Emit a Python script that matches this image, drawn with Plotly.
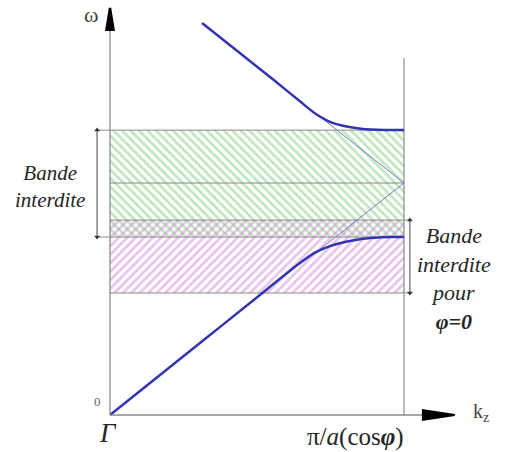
import plotly.graph_objects as go

# ---- data (normalised: k in units of pi/(a cos phi), omega in units of light-line value at zone edge)
k_lower = [0.0, 0.306, 0.476, 0.646, 0.697, 0.748, 0.799, 0.850, 0.901, 0.952, 1.0]
w_lower = [0.0, 0.310, 0.483, 0.655, 0.700, 0.728, 0.746, 0.758, 0.764, 0.767, 0.767]

k_upper = [0.313, 0.418, 0.554, 0.646, 0.704, 0.759, 0.840, 0.908, 1.0]
w_upper = [1.690, 1.584, 1.447, 1.352, 1.294, 1.258, 1.236, 1.229, 1.228]

k_light_lo = [0.71, 1.0]
w_light_lo = [0.71, 1.0]
k_light_hi = [0.70, 1.0]
w_light_hi = [1.30, 1.0]

gap_general = [0.767, 1.228]   # Bande interdite (any phi)
gap_phi0 = [0.526, 0.840]      # Bande interdite pour phi = 0
mid_level = 1.0
k_edge = 1.0

GREEN = "#7fcf7f"
PINK = "#cf8ad4"
GRAY = "#8a8a8a"
BLUE = "#3333b5"
TXT = "#262626"
SERIF = "Liberation Serif"

fig = go.Figure()

def line(x, y, color=GRAY, width=1):
    fig.add_trace(go.Scatter(x=x, y=y, mode="lines", line=dict(color=color, width=width),
                             showlegend=False, hoverinfo="skip"))

# hatched bands
fig.add_trace(go.Scatter(
    x=[0, k_edge, k_edge, 0, 0],
    y=[gap_general[0], gap_general[0], gap_general[1], gap_general[1], gap_general[0]],
    fill="toself", mode="none", hoverinfo="skip",
    fillpattern=dict(shape="\\", fgcolor=GREEN, bgcolor="rgba(0,0,0,0)", size=6, solidity=0.45),
    fillcolor="rgba(0,0,0,0)", showlegend=False))
fig.add_trace(go.Scatter(
    x=[0, k_edge, k_edge, 0, 0],
    y=[gap_phi0[0], gap_phi0[0], gap_phi0[1], gap_phi0[1], gap_phi0[0]],
    fill="toself", mode="none", hoverinfo="skip",
    fillpattern=dict(shape="/", fgcolor=PINK, bgcolor="rgba(0,0,0,0)", size=6, solidity=0.45),
    fillcolor="rgba(0,0,0,0)", showlegend=False))

# box outlines
xl = -0.044
xr = 1.02
line([xl, k_edge], [gap_general[1]] * 2)
line([xl, k_edge], [gap_general[0]] * 2)
line([0, k_edge], [mid_level] * 2)
line([0, xr], [gap_phi0[1]] * 2)
line([0, xr], [gap_phi0[0]] * 2)

# brackets with arrowheads
for xb, g in ((xl, gap_general), (xr, gap_phi0)):
    fig.add_trace(go.Scatter(x=[xb, xb], y=[g[0], g[1]], mode="lines+markers",
                             line=dict(color="#444", width=1),
                             marker=dict(symbol=["triangle-down", "triangle-up"], size=5, color="#333"),
                             showlegend=False, hoverinfo="skip"))

# zone-edge vertical line
line([k_edge, k_edge], [0, 1.539], width=1.2)

# folded light lines (thin)
line(k_light_lo, w_light_lo, color="#7a7ac4")
line(k_light_hi, w_light_hi, color="#7a7ac4")

# dispersion branches
for kk, ww in ((k_lower, w_lower), (k_upper, w_upper)):
    fig.add_trace(go.Scatter(x=kk, y=ww, mode="lines",
                             line=dict(color=BLUE, width=2.5, shape="spline", smoothing=0.8),
                             showlegend=False, hoverinfo="skip"))

# axes
line([0, 0], [0, 1.67], width=1.3)
line([0, 1.065], [0, 0], width=1.3)

shapes = [
    dict(type="path", xref="x", yref="y",
         path="M -0.017 1.655 L 0.017 1.655 L 0.004 1.755 L -0.004 1.755 Z",
         fillcolor="black", line=dict(width=0)),
    dict(type="path", xref="x", yref="y",
         path="M 1.061 0.026 L 1.061 -0.026 L 1.173 -0.004 L 1.173 0.004 Z",
         fillcolor="black", line=dict(width=0)),
]

annotations = [
    dict(x=-0.063, y=1.727, xref="x", yref="y", text="ω", showarrow=False,
         font=dict(family=SERIF, size=22, color="#444")),
    dict(x=-0.041, y=0.058, xref="x", yref="y", text="0", showarrow=False,
         font=dict(family=SERIF, size=13, color="#666")),
    dict(x=-0.008, y=-0.078, xref="x", yref="y", text="<i>Γ</i>", showarrow=False,
         font=dict(family=SERIF, size=27, color=TXT)),
    dict(x=0.835, y=-0.095, xref="x", yref="y", text="π/<i>a</i>(cos<b><i>φ</i></b>)", showarrow=False,
         font=dict(family=SERIF, size=25, color=TXT), borderpad=0),
    dict(x=1.262, y=0.012, xref="x", yref="y", text="k<sub>z</sub>", showarrow=False,
         font=dict(family=SERIF, size=20, color="#444")),
    dict(x=-0.204, y=0.983, xref="x", yref="y", text="<i>Bande</i><br><i>interdite</i>", showarrow=False,
         font=dict(family=SERIF, size=21, color=TXT), align="center"),
    dict(x=1.17, y=0.59, xref="x", yref="y",
         text="<i>Bande</i><br><i>interdite</i><br><i>pour</i><br><b><i>φ=0</i></b>",
         showarrow=False, font=dict(family=SERIF, size=22, color=TXT), align="center"),
]

fig.update_layout(
    width=505, height=452,
    margin=dict(l=0, r=0, t=0, b=0),
    paper_bgcolor="white", plot_bgcolor="white",
    font=dict(family=SERIF),
    xaxis=dict(range=[-110 / 294, 395 / 294], visible=False, fixedrange=True),
    yaxis=dict(range=[-37 / 232, 415 / 232], visible=False, fixedrange=True),
    shapes=shapes, annotations=annotations, showlegend=False,
)

fig.write_html("out.html")
